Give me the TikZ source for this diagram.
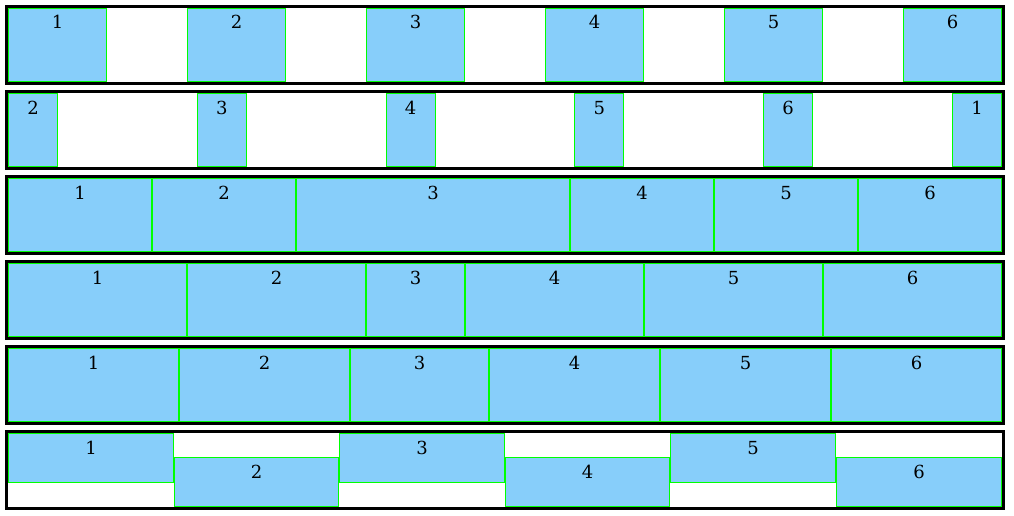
\documentclass[tikz,border=0pt]{standalone}
\usepackage{fontspec}
\setmainfont{DejaVu Serif}
\usetikzlibrary{calc}
\tikzset{
  cell/.style={draw=green, line width=1pt, fill=cellblue, inner sep=0pt, outer sep=0pt, anchor=north west},
  lab/.style={inner sep=0pt, anchor=base, font=\fontsize{18}{18}\selectfont, text=black},
  frame/.style={draw=black, line width=3pt}
}
\definecolor{cellblue}{HTML}{87CEFA}
\definecolor{green}{HTML}{00FF00}
% name, x1, y1, x2, y2 (pixel bounds, x2/y2 exclusive), label
\newcommand{\mycell}[6]{%
  \pgfmathsetmacro{\cw}{#4-#2-1}\pgfmathsetmacro{\ch}{#5-#3-1}%
  \pgfmathsetmacro{\cx}{#2+0.5}\pgfmathsetmacro{\cy}{#3+0.5}%
  \node[cell, minimum width=\cw pt, minimum height=\ch pt] (#1) at (\cx,\cy) {};
  \node[lab] (#1t) at ($(#1.north)+(0,20.5)$) {#6};
}
% frame of a row with top edge at #1
\newcommand{\myframe}[1]{%
  \pgfmathsetmacro{\fa}{#1+1.5}\pgfmathsetmacro{\fb}{#1+78.5}%
  \draw[frame] (6.5,\fa) rectangle (1003.5,\fb);
}
\begin{document}
\begin{tikzpicture}[x=1pt,y=-1pt]
\useasboundingbox (0,0) rectangle (1014,516);
% row 1
\mycell{a1}{8}{8}{107}{82}{1}
\mycell{a2}{187}{8}{286}{82}{2}
\mycell{a3}{366}{8}{465}{82}{3}
\mycell{a4}{545}{8}{644}{82}{4}
\mycell{a5}{724}{8}{823}{82}{5}
\mycell{a6}{903}{8}{1002}{82}{6}
\myframe{5}
% row 2
\mycell{b1}{8}{93}{58}{167}{2}
\mycell{b2}{196.8}{93}{246.8}{167}{3}
\mycell{b3}{385.6}{93}{435.6}{167}{4}
\mycell{b4}{574.4}{93}{624.4}{167}{5}
\mycell{b5}{763.2}{93}{813.2}{167}{6}
\mycell{b6}{952}{93}{1002}{167}{1}
\myframe{90}
% row 3
\mycell{c1}{8}{178}{152}{252}{1}
\mycell{c2}{152}{178}{296}{252}{2}
\mycell{c3}{296}{178}{570}{252}{3}
\mycell{c4}{570}{178}{714}{252}{4}
\mycell{c5}{714}{178}{858}{252}{5}
\mycell{c6}{858}{178}{1002}{252}{6}
\myframe{175}
% row 4
\mycell{d1}{8}{263}{187}{337}{1}
\mycell{d2}{187}{263}{366}{337}{2}
\mycell{d3}{366}{263}{465}{337}{3}
\mycell{d4}{465}{263}{644}{337}{4}
\mycell{d5}{644}{263}{823}{337}{5}
\mycell{d6}{823}{263}{1002}{337}{6}
\myframe{260}
% row 5
\mycell{e1}{8}{348}{179}{422}{1}
\mycell{e2}{179}{348}{350}{422}{2}
\mycell{e3}{350}{348}{489}{422}{3}
\mycell{e4}{489}{348}{660}{422}{4}
\mycell{e5}{660}{348}{831}{422}{5}
\mycell{e6}{831}{348}{1002}{422}{6}
\myframe{345}
% row 6
\mycell{f1}{8}{433}{174}{483}{1}
\mycell{f2}{174}{457}{339}{507}{2}
\mycell{f3}{339}{433}{505}{483}{3}
\mycell{f4}{505}{457}{670}{507}{4}
\mycell{f5}{670}{433}{836}{483}{5}
\mycell{f6}{836}{457}{1002}{507}{6}
\myframe{430}
\end{tikzpicture}
\end{document}
